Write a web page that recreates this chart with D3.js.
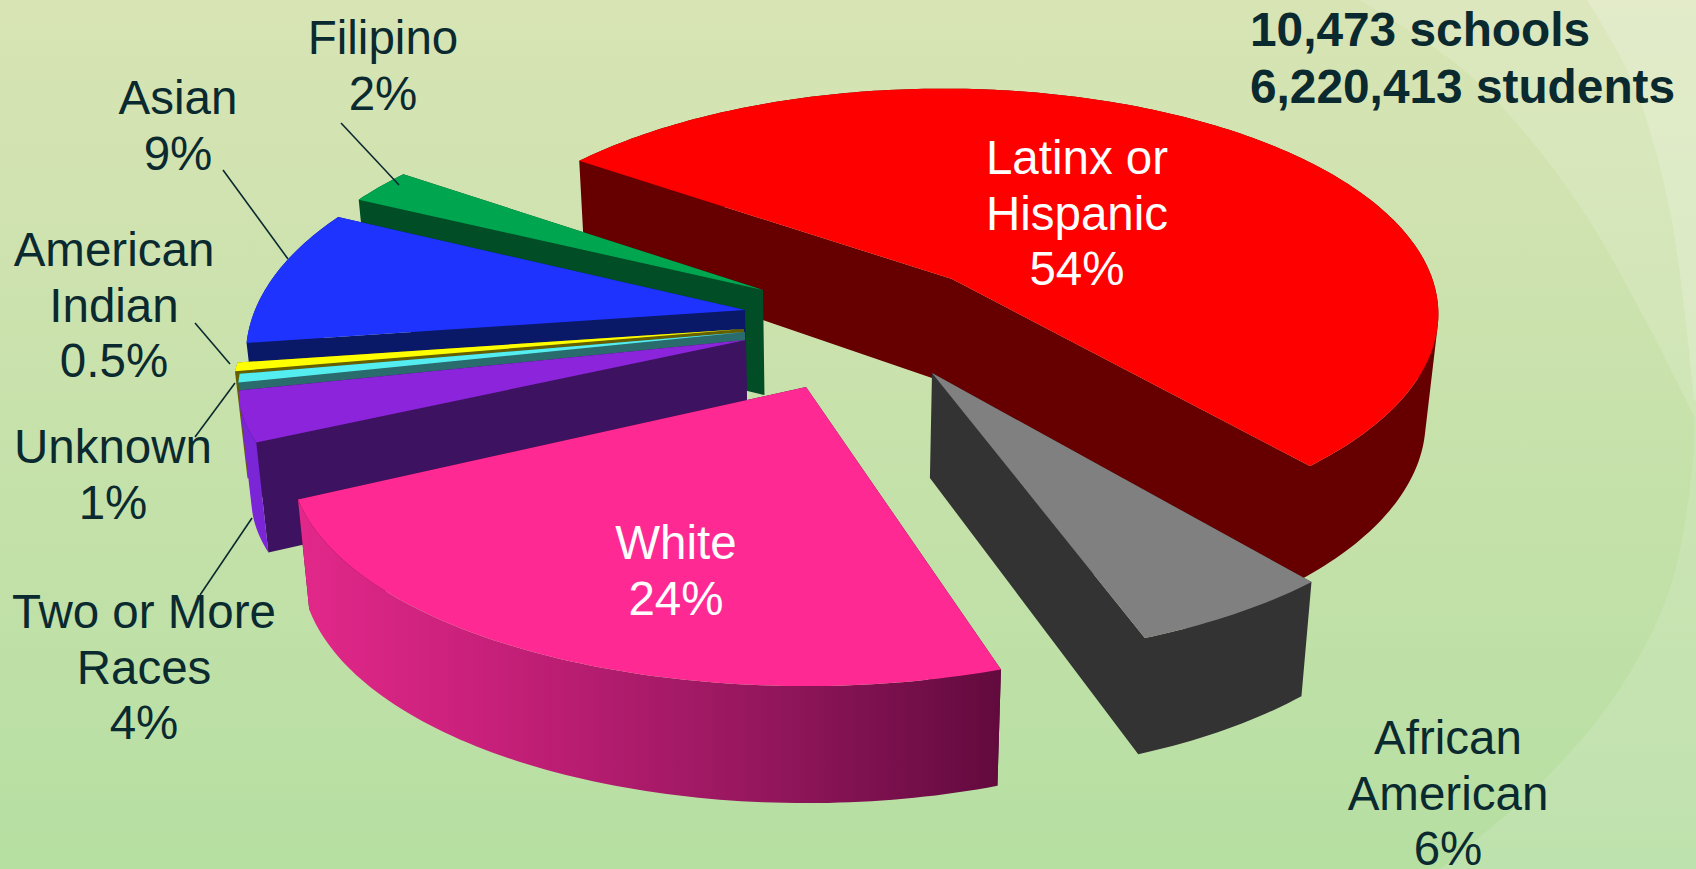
<!DOCTYPE html>
<html><head><meta charset="utf-8">
<script src="https://cdn.jsdelivr.net/npm/d3@7"></script>
<style>html,body{margin:0;padding:0;background:#fff;overflow:hidden}svg{display:block}text{font-family:"Liberation Sans",Arial,sans-serif}</style>
</head><body><svg id="c" width="1696" height="869"></svg>
<script>
// ---- data ----
const categories = ["Latinx or Hispanic","African American","White","Two or More Races","Unknown","American Indian","Asian","Filipino"];
const values = [54, 6, 24, 4, 1, 0.5, 9, 2];
const labelLines = [["Latinx or","Hispanic","54%"],["African","American","6%"],["White","24%"],["Two or More","Races","4%"],["Unknown","1%"],["American","Indian","0.5%"],["Asian","9%"],["Filipino","2%"]];
const headerLines = ["10,473 schools","6,220,413 students"];
// ---- styles / layout ----
const topColors  = ["#FF0000","#808080","#FF2994","#8B24DB","#55EEF0","#FFFF00","#1F33FF","#00A550"];
const sideColors = ["#660000","#333333","#4a0a30","#3D1260","#2A6B6E","#665F00","#0A1868","#004D26"];
const rimColors  = ["#660000","#333333","url(#pinkWall)","#7A25D6","#2A6B6E","#665F00","#0A1868","#004D26"];
const explodeX = [92, 72, -54, -114, -115, -116, -115, -97];
const explodeY = [-51, 43, 57, 10, 2, -1, -20, -40];
// camera corrections per slice: edge angle nudges (degrees) and perspective strength
const nudgeStart = [0, 2.1, 3.1, 1.1, -1.2, -2.8, -2.6, -1.4];
const nudgeEnd   = [0.6, 0.4, -0.1, -1.2, -2.8, -2.6, -0.9, 0.4];
const perspA = [-0.165, -0.27, -0.35, -0.32, -0.26, -0.3, -0.19, -0.22];
const perspB = [0.045, 0.075, 0.12, 0.267, 0, 0, 0, 0];
const perspSide = [0.02, 0, 0, 0, 0, 0, 0, 0];
const paintOrder = [0, 1, 7, 6, 5, 4, 3, 2];
const labelX = [1077, 1448, 676, 144, 113, 114, 178, 383];
const labelBase = [174, 754, 559, 628, 463, 266, 114, 54];
const labelFill = ["#fff","#0B2A30","#fff","#0B2A30","#0B2A30","#0B2A30","#0B2A30","#0B2A30"];
const leaders = [[[341,123],[399,185]],[[223,170],[288,259]],[[195,323],[230,364]],[[235,383],[195,437]],[[252,518],[200,595]]];
const cx = 860, cy = 330, S = 490, K = 0.47;
const VX = 833, VC = 0.021;

const svg = d3.select("#c");
const defs = svg.append("defs");
const bg = defs.append("linearGradient").attr("id","bg").attr("x1",0).attr("x2",0).attr("y1",0).attr("y2",1);
bg.append("stop").attr("offset",0).attr("stop-color","#D8E4B4");
bg.append("stop").attr("offset",1).attr("stop-color","#B6DFA2");
const pw = defs.append("linearGradient").attr("id","pinkWall").attr("gradientUnits","userSpaceOnUse").attr("x1",299).attr("x2",1000).attr("y1",0).attr("y2",0);
[[0,"#E2288A"],[0.3,"#C41F78"],[0.65,"#96175E"],[1,"#620A3E"]].forEach(s=>pw.append("stop").attr("offset",s[0]).attr("stop-color",s[1]));

svg.append("rect").attr("width",1696).attr("height",869).attr("fill","url(#bg)");
// background swooshes
const curve = d3.line().curve(d3.curveCatmullRom);
const band1 = [[1360,0],[1473,78],[1583,211],[1694,416]];
const band2 = [[1587,0],[1633,83],[1670,211],[1694,400]];
const band3 = [[1694,416],[1693,460],[1670,588],[1617,693],[1537,787],[1440,869]];
svg.append("path").attr("d",curve(band1)+"L1696,416L1696,0Z").attr("fill","#fff").attr("opacity",0.14);
svg.append("path").attr("d",curve(band2)+"L1696,400L1696,0Z").attr("fill","#fff").attr("opacity",0.18);
svg.append("path").attr("d",curve(band3)+"L1696,869L1696,416Z").attr("fill","#fff").attr("opacity",0.12);

// pie
const startA = -56 * Math.PI / 180;
const rad = Math.PI / 180;
const arcs = d3.pie().sort(null).startAngle(startA).endAngle(startA + 2*Math.PI)(values);
const line = d3.line();
function proj(i, r, th){
  const X = r*Math.sin(th), Y = -r*Math.cos(th);
  const w = 1 + perspA[i]*Y + perspB[i]*Y*Y + perspSide[i]*X;
  return {x: cx+explodeX[i]+S*X/w, y: cy+explodeY[i]+K*S*Y/w, Y};
}
const top2 = p => [p.x,p.y];
const low = p => [p.x+(VX-p.x)*VC, p.y+105+12*p.Y];
// all quads wound the same way, so one nonzero-filled path is a clean union without seams
const sweep = quads => quads.map(q => line(d3.polygonArea(q) < 0 ? q.slice().reverse() : q) + "Z").join("");
const g = svg.append("g");
paintOrder.forEach(i=>{
  const a0 = arcs[i].startAngle + nudgeStart[i]*rad, a1 = arcs[i].endAngle + nudgeEnd[i]*rad;
  const ths = d3.range(a0, a1, Math.PI/180).concat([a1]);
  const rim = ths.map(t=>proj(i,1,t));
  const apex = proj(i,0,0);
  const s = g.append("g").attr("class","slice").datum(categories[i]);
  const sideQ = [rim[0],rim[rim.length-1]].map(c=>[top2(apex),top2(c),low(c),low(apex)]);
  const rimQ = d3.pairs(rim).map(([p,q])=>[top2(p),top2(q),low(q),low(p)]);
  if (sideColors[i] === rimColors[i]) {
    s.append("path").attr("d",sweep(sideQ.concat(rimQ))).attr("fill",rimColors[i]);
  } else {
    s.append("path").attr("d",sweep(sideQ)).attr("fill",sideColors[i]);
    s.append("path").attr("d",sweep(rimQ)).attr("fill",rimColors[i]);
  }
  s.append("path").attr("d",line([top2(apex)].concat(rim.map(top2)))+"Z").attr("fill",topColors[i]);
});
// leaders
leaders.forEach(l=>svg.append("path").attr("d",line(l)).attr("stroke","#0B2A30").attr("stroke-width",1.6).attr("fill","none"));
// labels
const lh = 55.5;
labelLines.forEach((ls,i)=>{
  ls.forEach((t,j)=>svg.append("text").attr("x",labelX[i]).attr("y",labelBase[i]+j*lh)
    .attr("text-anchor","middle").attr("font-size",47.5).attr("fill",labelFill[i]).text(t));
});
headerLines.forEach((t,j)=>svg.append("text").attr("x",1250).attr("y",46+j*56.5)
  .attr("font-size",47.8).attr("font-weight","bold").attr("fill","#0B2A30").text(t));
</script></body></html>
